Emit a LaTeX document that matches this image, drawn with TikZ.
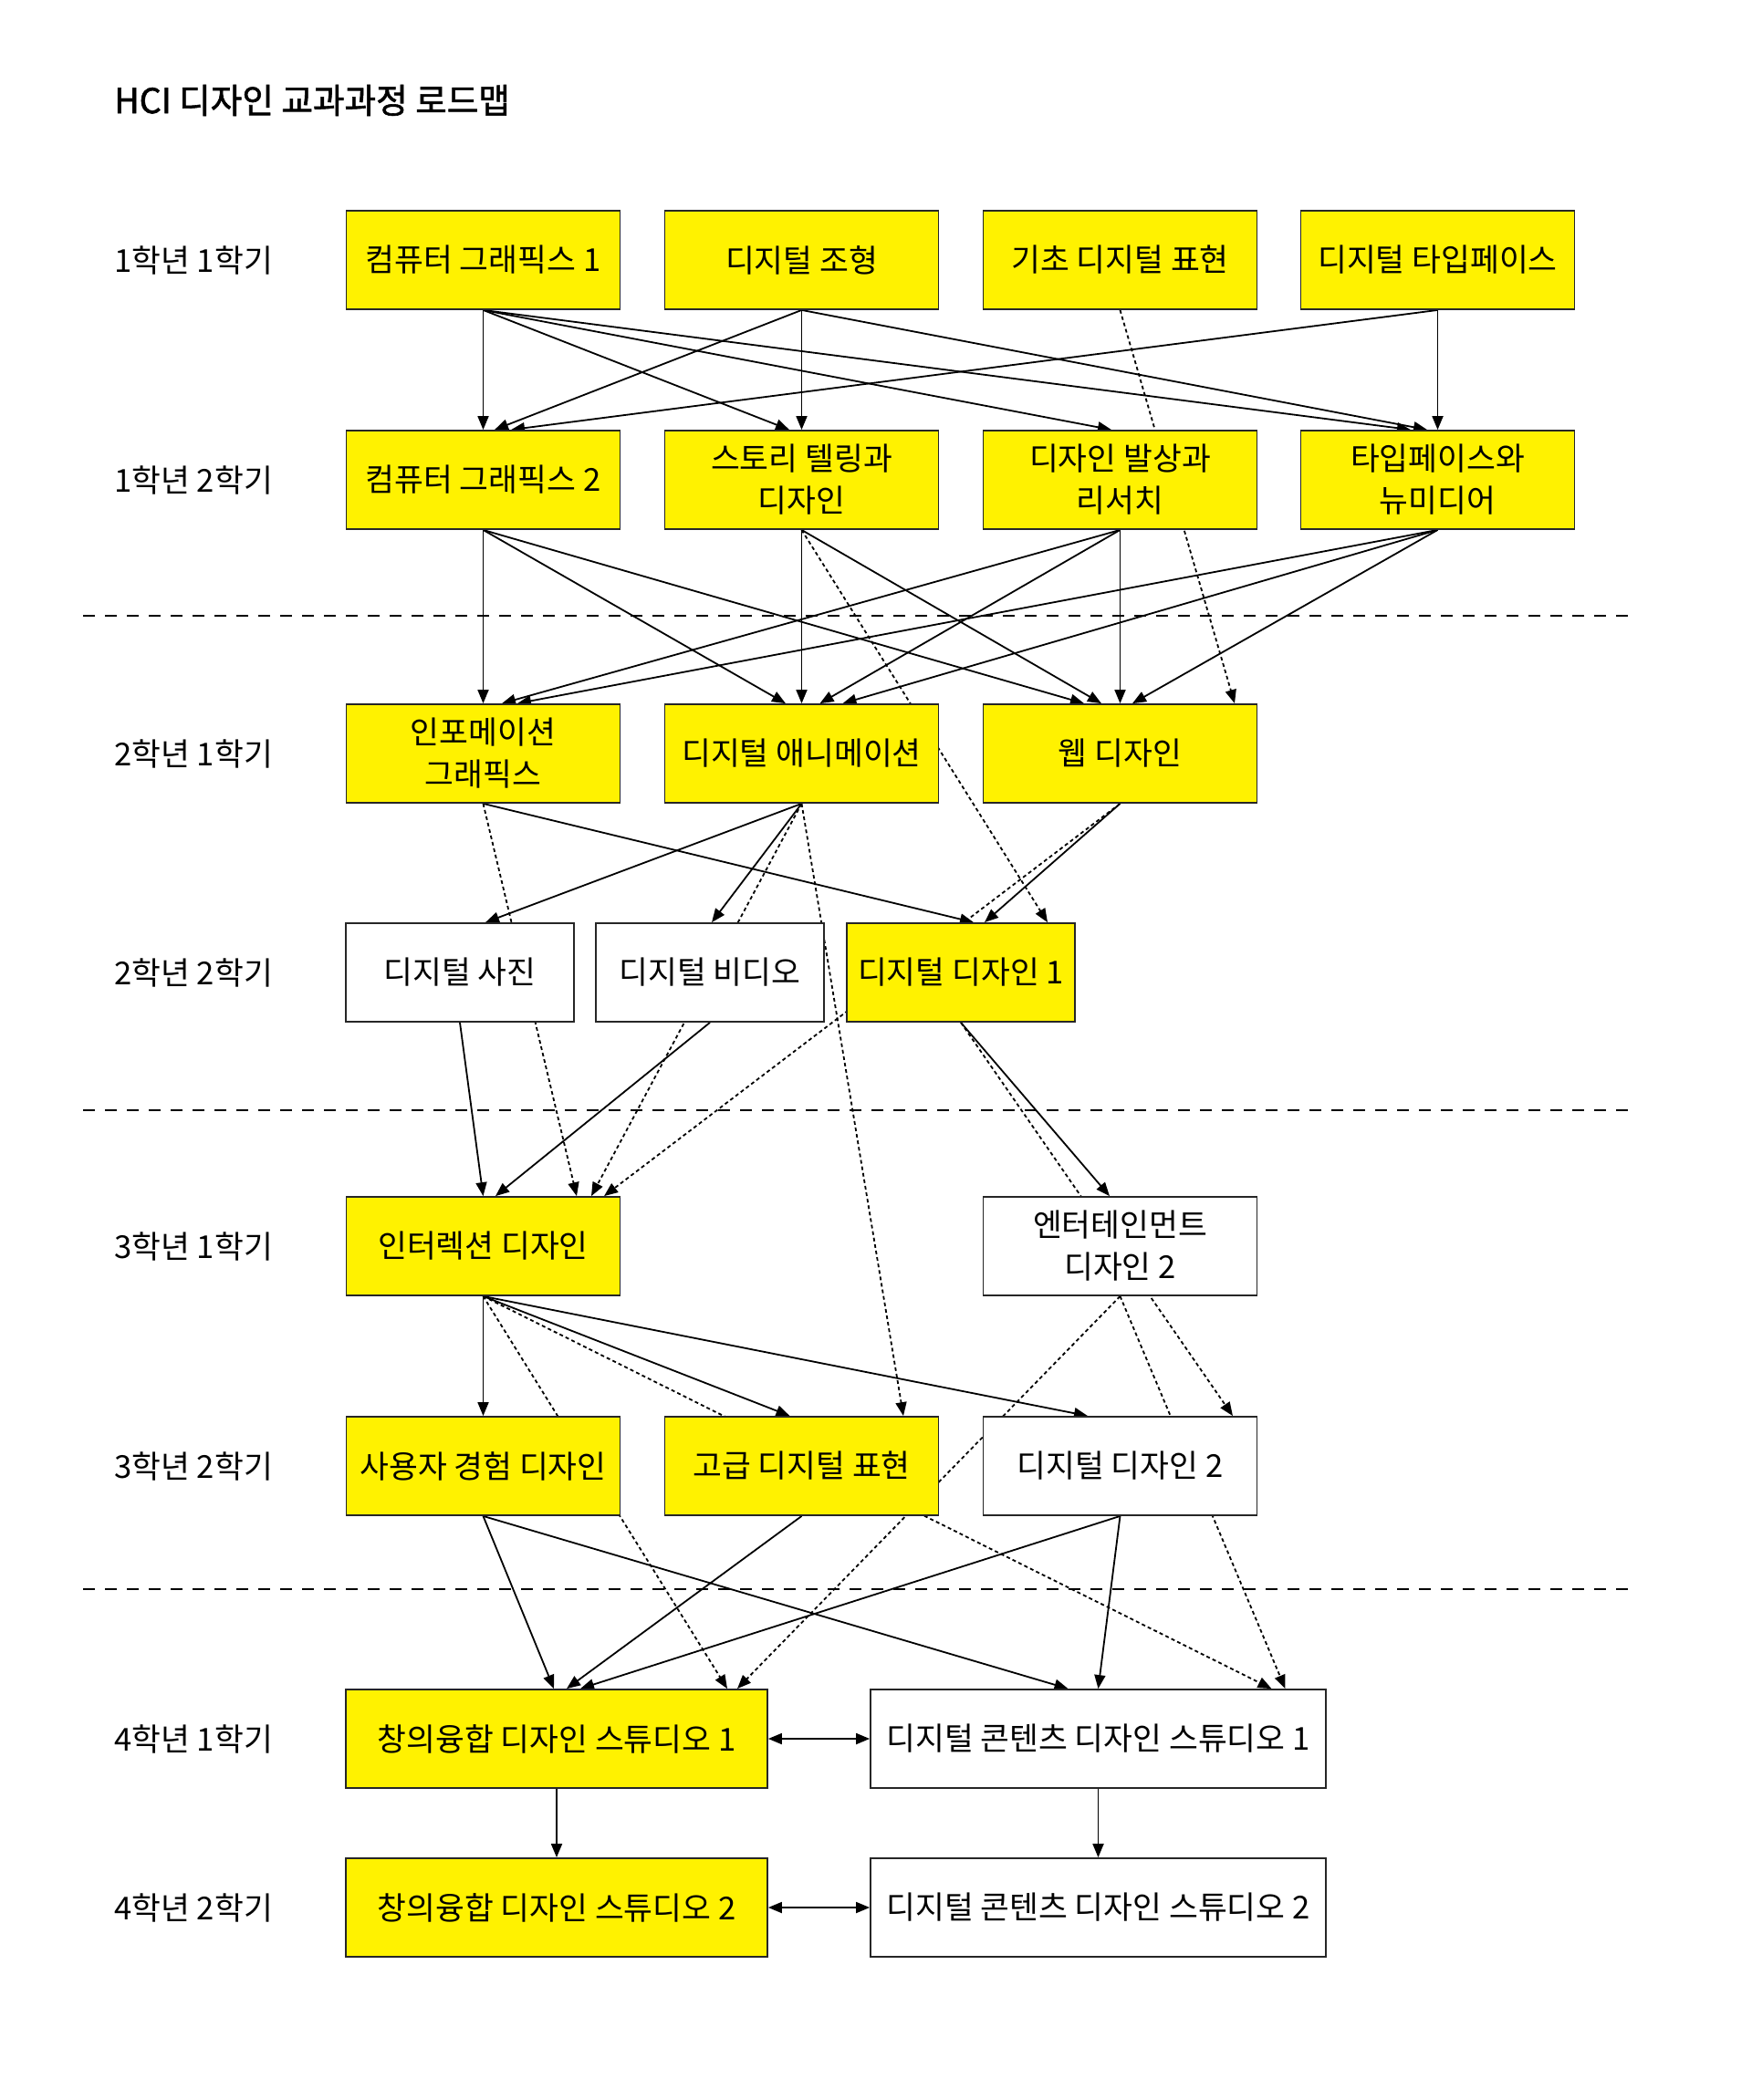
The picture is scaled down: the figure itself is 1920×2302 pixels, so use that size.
\documentclass[tikz,border=0pt]{standalone}
\usepackage{fontspec}
\setmainfont{Noto Sans CJK KR}
\newfontfamily\titlefont[FakeBold=1.6]{Noto Sans CJK KR}
\usetikzlibrary{arrows.meta,calc}
\pgfdeclarelayer{bg}
\pgfdeclarelayer{edges}
\pgfsetlayers{bg,edges,main}
\begin{document}
\begin{tikzpicture}[x=0.5pt,y=-0.5pt,
  box/.style={draw=black!85,line width=0.9pt,minimum width=150pt,minimum height=54pt,inner sep=0pt,align=center,font=\fontsize{17.3}{23}\selectfont},
  ybox/.style={box,fill=yellow},
  wbox/.style={box,fill=white},
  e/.style={line width=0.9pt,-{Triangle[length=7.5pt,width=6pt]}},
  ee/.style={line width=0.9pt,{Triangle[length=7.5pt,width=6pt]}-{Triangle[length=7.5pt,width=6pt]}},
  d/.style={e,dash pattern=on 2pt off 1.6pt},
  sep/.style={line width=0.8pt,dash pattern=on 6.5pt off 5.5pt},
  lab/.style={anchor=west,font=\fontsize{17.3}{20}\selectfont,inner sep=0pt},
]
\begin{pgfonlayer}{bg}
\fill[white] (0,0) rectangle (1920,2302);
\end{pgfonlayer}
\useasboundingbox (0,0) rectangle (1920,2302);

\node[anchor=west,inner sep=0pt,font=\fontsize{18.8}{20}\titlefont] (title) at (125,110) {HCI 디자인 교과과정 로드맵};

\node[lab] (l1) at (125,285) {1학년 1학기};
\node[lab] (l2) at (125,526) {1학년 2학기};
\node[lab] (l3) at (125,826) {2학년 1학기};
\node[lab] (l4) at (125,1066) {2학년 2학기};
\node[lab] (l5) at (125,1366) {3학년 1학기};
\node[lab] (l6) at (125,1607) {3학년 2학기};
\node[lab] (l7) at (125,1906) {4학년 1학기};
\node[lab] (l8) at (125,2091) {4학년 2학기};

\draw[sep] (91,675) -- (1788,675);
\draw[sep] (91,1217) -- (1788,1217);
\draw[sep] (91,1742) -- (1788,1742);

% row 1
\node[ybox] (cgA) at (529.5,285) {컴퓨터 그래픽스 1};
\node[ybox] (form) at (878.5,285) {디지털 조형};
\node[ybox] (basic) at (1227.5,285) {기초 디지털 표현};
\node[ybox] (typeA) at (1575.5,285) {디지털 타입페이스};
% row 2
\node[ybox] (cgB) at (529.5,526) {컴퓨터 그래픽스 2};
\node[ybox] (story) at (878.5,526) {스토리 텔링과\\디자인};
\node[ybox] (idea) at (1227.5,526) {디자인 발상과\\리서치};
\node[ybox] (typeB) at (1575.5,526) {타입페이스와\\뉴미디어};
% row 3
\node[ybox] (info) at (529.5,826) {인포메이션\\그래픽스};
\node[ybox] (anim) at (878.5,826) {디지털 애니메이션};
\node[ybox] (web) at (1227.5,826) {웹 디자인};
% row 4
\node[wbox,minimum width=125pt] (photo) at (504,1066) {디지털 사진};
\node[wbox,minimum width=125pt] (video) at (778,1066) {디지털 비디오};
\node[ybox,minimum width=125pt] (ddA) at (1053,1066) {디지털 디자인 1};
% row 5
\node[ybox] (inter) at (529.5,1366) {인터렉션 디자인};
\node[wbox] (ent) at (1227.5,1366) {엔터테인먼트\\디자인 2};
% row 6
\node[ybox] (ux) at (529.5,1607) {사용자 경험 디자인};
\node[ybox] (adv) at (878.5,1607) {고급 디지털 표현};
\node[wbox] (ddB) at (1227.5,1607) {디지털 디자인 2};
% row 7
\node[ybox,minimum width=231pt] (csA) at (610,1906) {창의융합 디자인 스튜디오 1};
\node[wbox,minimum width=249.5pt] (dcA) at (1203.5,1906) {디지털 콘텐츠 디자인 스튜디오 1};
% row 8
\node[ybox,minimum width=231pt] (csB) at (610,2091) {창의융합 디자인 스튜디오 2};
\node[wbox,minimum width=249.5pt] (dcB) at (1203.5,2091) {디지털 콘텐츠 디자인 스튜디오 2};

\begin{pgfonlayer}{edges}
% row1 -> row2
\draw[e] (cgA.south) -- (cgB.north);
\draw[e] (cgA.south) -- ($(story.north)+(-13.5,0)$);
\draw[e] (cgA.south) -- ($(idea.north)+(-9.5,0)$);
\draw[e] (cgA.south) -- ($(typeB.north)+(-29.5,0)$);
\draw[e] (form.south) -- ($(cgB.north)+(12.5,0)$);
\draw[e] (form.south) -- (story.north);
\draw[e] (form.south) -- ($(typeB.north)+(-11.5,0)$);
\draw[e] (typeA.south) -- ($(cgB.north)+(30.5,0)$);
\draw[e] (typeA.south) -- (typeB.north);
\draw[d] (basic.south) -- ($(web.north)+(125.5,0)$);
% row2 -> row3
\draw[e] (cgB.south) -- (info.north);
\draw[e] (cgB.south) -- ($(anim.north)+(-17.5,0)$);
\draw[e] (cgB.south) -- ($(web.north)+(-39.5,0)$);
\draw[e] (story.south) -- (anim.north);
\draw[e] (story.south) -- ($(web.north)+(-20.5,0)$);
\draw[d] (story.south) -- ($(ddA.north)+(95,0)$);
\draw[e] (idea.south) -- ($(info.north)+(20.5,0)$);
\draw[e] (idea.south) -- ($(anim.north)+(20,0)$);
\draw[e] (idea.south) -- (web.north);
\draw[e] (typeB.south) -- ($(info.north)+(37.5,0)$);
\draw[e] (typeB.south) -- ($(anim.north)+(45,0)$);
\draw[e] (typeB.south) -- ($(web.north)+(13.5,0)$);
% row3 -> row4
\draw[e] (info.south) -- ($(ddA.north)+(14,0)$);
\draw[d] (info.south) -- ($(inter.north)+(102.5,0)$);
\draw[e] (anim.south) -- ($(photo.north)+(28,0)$);
\draw[e] (anim.south) -- ($(video.north)+(2,0)$);
\draw[d] (anim.south) -- ($(inter.north)+(118.5,0)$);
\draw[d] (anim.south) -- ($(adv.north)+(111.5,0)$);
\draw[e] (web.south) -- ($(ddA.north)+(26,0)$);
\draw[d] (web.south) -- ($(inter.north)+(132.5,0)$);
% row4 -> row5
\draw[e] (photo.south) -- (inter.north);
\draw[e] (video.south) -- ($(inter.north)+(13.5,0)$);
\draw[e] (ddA.south) -- ($(ent.north)+(-11.5,0)$);
\draw[d] (ddA.south) -- ($(ddB.north)+(123.5,0)$);
% row5 -> row6
\draw[e] (inter.south) -- (ux.north);
\draw[e] (inter.south) -- ($(adv.north)+(-13,0)$);
\draw[e] (inter.south) -- ($(ddB.north)+(-35.5,0)$);
\draw[d] (inter.south) -- ($(csA.north)+(187,0)$);
\draw[d] (inter.south) -- ($(dcA.north)+(190,0)$);
\draw[d] (ent.south) -- ($(csA.north)+(198,0)$);
\draw[d] (ent.south) -- ($(dcA.north)+(205,0)$);
% row6 -> row7
\draw[e] (ux.south) -- ($(csA.north)+(-3,0)$);
\draw[e] (ux.south) -- ($(dcA.north)+(-33,0)$);
\draw[e] (adv.south) -- ($(csA.north)+(11,0)$);
\draw[e] (ddB.south) -- ($(csA.north)+(26,0)$);
\draw[e] (ddB.south) -- (dcA.north);
% row7 -> row8
\draw[e] (csA.south) -- (csB.north);
\draw[e] (dcA.south) -- (dcB.north);
\draw[ee] (csA.east) -- (dcA.west);
\draw[ee] (csB.east) -- (dcB.west);
\end{pgfonlayer}
\end{tikzpicture}
\end{document}
